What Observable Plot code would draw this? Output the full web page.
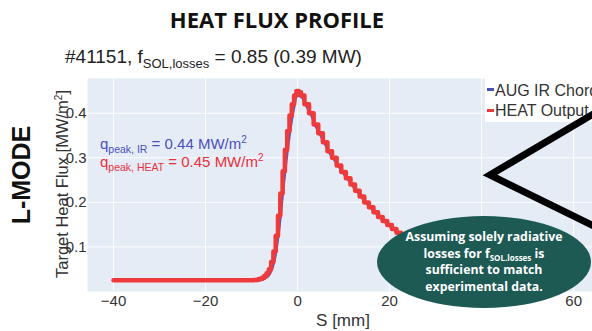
<!DOCTYPE html>
<html><head><meta charset="utf-8">
<script src="https://cdn.jsdelivr.net/npm/d3@7"></script>
<script src="https://cdn.jsdelivr.net/npm/@observablehq/plot@0.6"></script>
<style>
body{margin:0;background:#fff;}
#wrap{position:relative;width:592px;height:331px;overflow:hidden;font-family:"Liberation Sans",Arial,sans-serif;color:#222;}
#wrap svg{display:block;}
.abs{position:absolute;white-space:nowrap;line-height:1;}
#title{left:0;width:554px;text-align:center;top:8px;font-family:"Open Sans",sans-serif;font-weight:700;font-size:22px;color:#111;}
#subtitle{left:65px;top:47px;font-size:19px;color:#222;}
#subtitle sub{font-size:13px;vertical-align:-5px;}
#lmode{left:21px;top:175px;transform:translate(-50%,-50%) rotate(-90deg);font-weight:700;font-size:25px;color:#111;}
#ylab{left:62px;top:184px;transform:translate(-50%,-50%) rotate(-90deg);font-size:16.5px;color:#333;}
#ylab sup{font-size:10px;vertical-align:6px;}
#xlab{left:343px;top:320px;transform:translate(-50%,-50%);font-size:17px;color:#333;}
.q{left:100px;font-size:15px;}
.q sub{font-size:10.5px;vertical-align:-4px;}
.q sup{font-size:10px;vertical-align:6px;}
#qir{top:135px;color:#4b50bd;}
#qheat{top:153px;color:#e8303a;}
#legend{left:485px;top:78px;width:120px;height:44px;background:#fff;}
.lg{position:absolute;left:10px;font-size:16px;color:#333;white-space:nowrap;line-height:1;}
.dash{position:absolute;left:2px;width:7px;height:3px;}
#ell{left:377px;top:216px;width:214px;height:92px;border-radius:50%;background:#1d5a53;}
#elltext{left:484px;top:262px;transform:translate(-50%,-50%);text-align:center;color:#fff;font-family:"Open Sans",sans-serif;font-weight:700;font-size:12.3px;line-height:16.5px;}
#elltext sub{font-size:8px;vertical-align:-3px;line-height:0;}
#chev{position:absolute;left:0;top:0;}
</style></head>
<body>
<div id="wrap">
  <div id="plot"></div>
  <div class="abs" id="title">HEAT FLUX PROFILE</div>
  <div class="abs" id="subtitle">#41151, f<sub>SOL,losses</sub> = 0.85 (0.39 MW)</div>
  <div class="abs" id="lmode">L-MODE</div>
  <div class="abs" id="ylab">Target Heat Flux [MW/m<sup>2</sup>]</div>
  <div class="abs" id="xlab">S [mm]</div>
  <div class="abs q" id="qir">q<sub>peak, IR</sub> = 0.44 MW/m<sup>2</sup></div>
  <div class="abs q" id="qheat">q<sub>peak, HEAT</sub> = 0.45 MW/m<sup>2</sup></div>
  <div class="abs" id="legend">
    <div class="dash" style="top:10px;background:#4b50bd"></div>
    <div class="lg" style="top:5px">AUG IR Chord</div>
    <div class="dash" style="top:31px;background:#ee3a3a"></div>
    <div class="lg" style="top:25px">HEAT Output</div>
  </div>
  <svg id="chev" width="592" height="331"><polyline points="600,110 490,175 600,229" fill="none" stroke="#000" stroke-width="7" stroke-linejoin="miter"/></svg>
  <div class="abs" id="ell"></div>
  <div class="abs" id="elltext">Assuming solely radiative<br>losses for f<sub>SOL.losses</sub> is<br>sufficient to match<br>experimental data.</div>
</div>
<script>
// AUG IR Chord (measured), S [mm] and heat flux [MW/m^2]
const sIR = [-40,-9,-8,-7,-6,-5,-4,-3,-2,-1,0,1,2,3,4,5,6,7,8,9,10,12,14,16,18,20,22,24,26,28,30,35,40];
const qIR = [0.025,0.025,0.026,0.03,0.04,0.07,0.14,0.24,0.33,0.40,0.44,0.435,0.415,0.395,0.37,0.35,0.33,0.31,0.295,0.28,0.265,0.237,0.21,0.187,0.165,0.147,0.13,0.116,0.103,0.092,0.082,0.062,0.05];
// HEAT Output (stepped)
const sHEAT = [-40,-10,-9,-8,-7.5,-7,-6.5,-6,-5.5,-5,-4.5,-4,-3.5,-3,-2.5,-2,-1.5,-1,-0.5,0,0.5,1,2,3,4,5,6,7,8,9,10,11,12,13,14,15,16,17,18,19,20,21,22,23,24,25,26,27,28,30,32,35,40];
const qHEAT = [0.025,0.025,0.026,0.028,0.031,0.035,0.041,0.05,0.066,0.09,0.125,0.17,0.22,0.27,0.318,0.36,0.395,0.42,0.44,0.45,0.447,0.44,0.42,0.40,0.375,0.355,0.335,0.315,0.30,0.283,0.268,0.254,0.24,0.226,0.213,0.20,0.189,0.178,0.167,0.158,0.149,0.14,0.132,0.124,0.117,0.11,0.104,0.098,0.092,0.082,0.073,0.062,0.05];
const xTicks = [-40,-20,0,20,40,60];
const yTicks = [0.1,0.2,0.3,0.4];

const ir = sIR.map((s,i)=>({s, q:qIR[i]}));
const heat = sHEAT.map((s,i)=>({s, q:qHEAT[i]}));

const chart = Plot.plot({
  width:592, height:331,
  marginLeft:87, marginRight:0, marginTop:78, marginBottom:40,
  style:{fontFamily:"Liberation Sans, Arial, sans-serif", fontSize:"15px", color:"#333", background:"transparent"},
  x:{domain:[-45.65,64.1]},
  y:{domain:[0,0.478]},
  marks:[
    Plot.frame({fill:"#e5ecf6", stroke:null}),
    Plot.gridX(xTicks,{stroke:"#fff", strokeOpacity:0.9, strokeWidth:1}),
    Plot.gridY(yTicks,{stroke:"#fff", strokeOpacity:0.9, strokeWidth:1}),
    Plot.line(ir,{x:"s", y:"q", stroke:"#5358c4", strokeWidth:2.5, curve:"monotone-x"}),
    Plot.line(heat,{x:"s", y:"q", stroke:"#ee3a3a", strokeWidth:4.5, curve:"step"}),
    Plot.axisX(xTicks,{tickSize:0, tickPadding:4, label:null, fontSize:15}),
    Plot.axisY(yTicks,{tickSize:0, tickPadding:1, label:null, fontSize:15, tickFormat:d3.format(".1f")})
  ]
});
document.getElementById("plot").appendChild(chart);
</script>
</body></html>
